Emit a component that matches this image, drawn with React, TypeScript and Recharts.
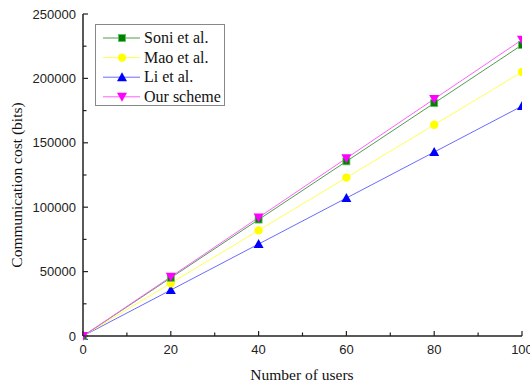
import React from 'react';
import { LineChart, Line, XAxis, YAxis } from 'recharts';

const users = [0, 20, 40, 60, 80, 100];
const soni = [0, 45200, 90400, 135600, 180800, 226000];
const mao = [0, 41000, 82000, 123000, 164000, 205000];
const li = [0, 35700, 71400, 107100, 142800, 178500];
const ours = [0, 46000, 92000, 138000, 184000, 230000];

const xTicks = [0, 10, 20, 30, 40, 50, 60, 70, 80, 90, 100];
const xLabels = [0, 20, 40, 60, 80, 100];
const yTicks = [0, 25000, 50000, 75000, 100000, 125000, 150000, 175000, 200000, 225000, 250000];
const yLabels = [0, 50000, 100000, 150000, 200000, 250000];

const seriesNames = ['Soni et al.', 'Mao et al.', 'Li et al.', 'Our scheme'];

const data = users.map((u, i) => ({ u, soni: soni[i], mao: mao[i], li: li[i], ours: ours[i] }));

const SANS = '"Liberation Sans", Arial, sans-serif';
const SERIF = '"Liberation Serif", "Times New Roman", serif';

const lineColors = { soni: '#4f9f4f', mao: '#ffff55', li: '#6b6bff', ours: '#ff60ff' };
const markColors = { soni: '#008000', mao: '#ffff00', li: '#0000ff', ours: '#ff00ff' };

const Square = (p: any) => {
  const { cx, cy } = p;
  if (cx == null || cy == null) return null;
  return <rect x={cx - 3.5} y={cy - 3.5} width={7} height={7} fill={markColors.soni} stroke="#5fbf5f" strokeWidth={0.8} />;
};
const Circle = (p: any) => {
  const { cx, cy } = p;
  if (cx == null || cy == null) return null;
  return <circle cx={cx} cy={cy} r={4.2} fill={markColors.mao} />;
};
const TriUp = (p: any) => {
  const { cx, cy } = p;
  if (cx == null || cy == null) return null;
  return <polygon points={`${cx},${cy - 5} ${cx - 5},${cy + 4} ${cx + 5},${cy + 4}`} fill={markColors.li} />;
};
const TriDown = (p: any) => {
  const { cx, cy } = p;
  if (cx == null || cy == null) return null;
  return <polygon points={`${cx},${cy + 5} ${cx - 5},${cy - 4} ${cx + 5},${cy - 4}`} fill={markColors.ours} />;
};

const XTick = (p: any) => {
  const { x, y, payload } = p;
  const major = xLabels.includes(payload.value);
  return (
    <g>
      <line x1={x} y1={y} x2={x} y2={y - (major ? 5 : 3.5)} stroke="#222" strokeWidth={1.2} />
      {major && (
        <text x={x} y={y + 18} textAnchor="middle" fontFamily={SANS} fontSize={13} fill="#222">
          {payload.value}
        </text>
      )}
    </g>
  );
};

const YTick = (p: any) => {
  const { x, y, payload } = p;
  const major = yLabels.includes(payload.value);
  return (
    <g>
      <line x1={x} y1={y} x2={x + (major ? 5 : 3.5)} y2={y} stroke="#222" strokeWidth={1.2} />
      {major && (
        <text x={x - 7} y={y + 4.5} textAnchor="end" fontFamily={SANS} fontSize={13} fill="#222">
          {payload.value}
        </text>
      )}
    </g>
  );
};

const legendItems = [
  { name: seriesNames[0], key: 'soni', M: Square },
  { name: seriesNames[1], key: 'mao', M: Circle },
  { name: seriesNames[2], key: 'li', M: TriUp },
  { name: seriesNames[3], key: 'ours', M: TriDown },
];

export default function App() {
  return (
    <div style={{ position: 'absolute', left: 0, top: 0, width: 530, height: 384, background: '#fff' }}>
      <LineChart width={530} height={384} data={data} margin={{ top: 14, right: 8, bottom: 0, left: 0 }}>
        <XAxis
          dataKey="u"
          type="number"
          domain={[0, 100]}
          ticks={xTicks}
          interval={0}
          tickSize={0}
          tickMargin={0}
          tickLine={false}
          tick={<XTick />}
          height={48}
          stroke="#222"
          strokeWidth={1.5}
          allowDataOverflow
        />
        <XAxis xAxisId="top" orientation="top" dataKey="u" type="number" domain={[0, 100]} tick={false} tickLine={false} height={0} stroke="#333" strokeWidth={1.2} />
        <YAxis
          type="number"
          domain={[0, 250000]}
          ticks={yTicks}
          interval={0}
          tickSize={0}
          tickMargin={0}
          tickLine={false}
          tick={<YTick />}
          width={83}
          stroke="#222"
          strokeWidth={1.5}
        />
        <YAxis yAxisId="right" orientation="right" domain={[0, 250000]} tick={false} tickLine={false} width={0} stroke="#555" strokeWidth={1.5} />
        <Line dataKey="li" stroke={lineColors.li} strokeWidth={1} dot={<TriUp />} isAnimationActive={false} />
        <Line dataKey="mao" stroke={lineColors.mao} strokeWidth={1} dot={<Circle />} isAnimationActive={false} />
        <Line dataKey="soni" stroke={lineColors.soni} strokeWidth={1} dot={<Square />} isAnimationActive={false} />
        <Line dataKey="ours" stroke={lineColors.ours} strokeWidth={1} dot={<TriDown />} isAnimationActive={false} />
      </LineChart>
      <svg style={{ position: 'absolute', left: 0, top: 0, pointerEvents: 'none' }} width={530} height={384}>
        <text x={302} y={380} textAnchor="middle" fontFamily={SERIF} fontSize={15.5} fill="#111">Number of users</text>
        <text x={22} y={185} textAnchor="middle" fontFamily={SERIF} fontSize={15.5} fill="#111" transform="rotate(-90 22 185)">
          Communication cost (bits)
        </text>
        <rect x={95.5} y={24.5} width={129} height={81} fill="#fff" stroke="#888" strokeWidth={1} />
        {legendItems.map((it, i) => {
          const cy = 38 + i * 19.6;
          const M = it.M;
          return (
            <g key={it.key}>
              <line x1={103} y1={cy} x2={140} y2={cy} stroke={(lineColors as any)[it.key]} strokeWidth={1} />
              <M cx={122} cy={cy} />
              <text x={144} y={cy + 5} fontFamily={SERIF} fontSize={16} fill="#111">{it.name}</text>
            </g>
          );
        })}
      </svg>
    </div>
  );
}
